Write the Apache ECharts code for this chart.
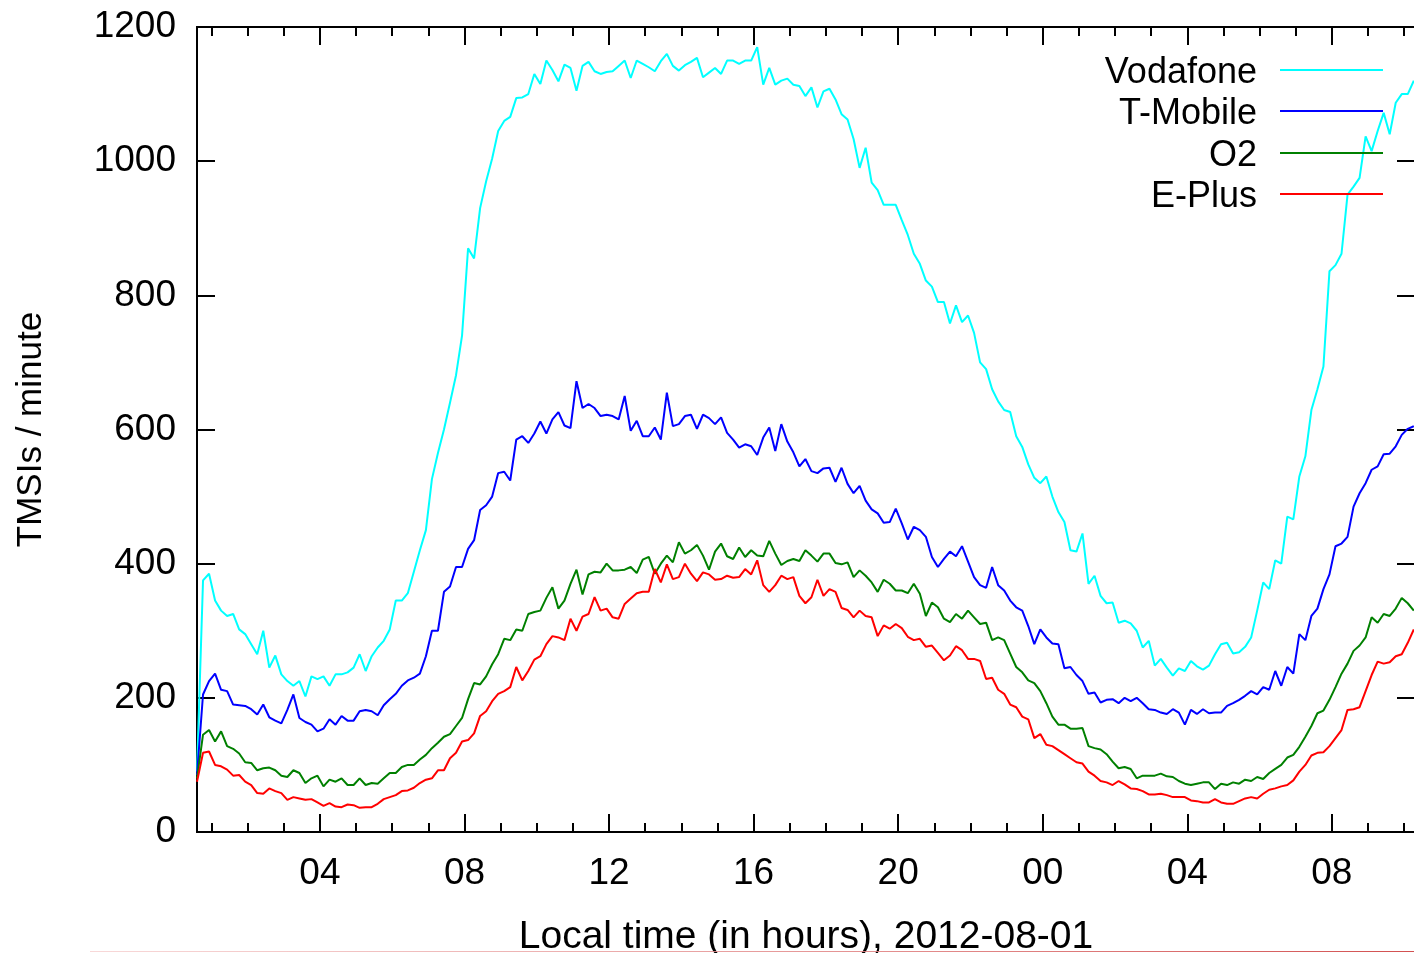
<!DOCTYPE html>
<html>
<head>
<meta charset="utf-8">
<script src="https://cdn.jsdelivr.net/npm/echarts@6/dist/echarts.min.js"></script>
<style>
html,body{margin:0;padding:0;background:#fff;}
#chart{width:1414px;height:953px;}
</style>
</head>
<body>
<div id="chart"></div>
<script>
// Sampling: hours since 2012-08-01 00:00 local time
const startHour = 0.6;
const stepMinutes = 10;

// TMSIs per minute, one row per hour of the day (10-minute samples)
const vodafone = [90,375,385,
345,330,322,325,302,295,
280,265,300,245,263,235,
225,218,225,202,232,228,
232,218,235,235,238,245,
265,240,262,275,285,302,
345,345,356,388,420,450,
526,565,600,640,681,740,
870,855,930,970,1004,1045,
1060,1066,1094,1095,1100,1130,
1115,1150,1136,1119,1144,1139,
1105,1142,1148,1134,1130,1133,
1134,1142,1150,1124,1150,1145,
1140,1134,1149,1160,1142,1135,
1143,1148,1154,1125,1132,1139,
1130,1150,1150,1145,1150,1150,
1170,1114,1139,1114,1120,1123,
1114,1112,1097,1110,1080,1104,
1108,1092,1070,1062,1033,990,
1020,968,957,935,935,935,
912,890,862,847,822,813,
790,790,758,785,760,770,
744,700,690,660,642,629,
626,590,574,548,528,520,
530,500,477,462,420,418,
445,370,382,352,341,342,
312,315,311,300,275,285,
248,258,245,233,244,240,
255,247,242,248,265,280,
282,266,268,276,290,330,
372,362,405,400,470,466,
530,560,629,660,694,836,
845,862,950,962,975,1037,
1015,1045,1072,1040,1087,1100,
1100,1120];

const tmobile = [85,205,225,
236,212,210,190,189,188,
183,175,190,171,166,162,
182,205,170,164,160,150,
154,168,160,173,166,166,
180,182,180,174,189,198,
206,218,226,230,236,262,
300,300,358,366,395,395,
422,435,480,487,500,535,
537,524,585,590,580,594,
612,594,615,626,606,602,
672,632,638,632,620,622,
620,615,650,598,613,590,
590,603,585,655,605,608,
620,622,601,622,617,608,
618,595,585,573,578,575,
562,588,603,568,608,582,
566,545,556,538,535,542,
543,522,543,519,505,516,
494,481,475,461,462,482,
460,436,455,450,440,410,
395,407,418,411,426,403,
380,368,364,395,368,360,
345,335,330,307,280,302,
290,281,280,244,246,234,
225,206,208,193,197,198,
192,200,195,200,192,183,
182,178,176,183,178,160,
182,176,183,177,178,178,
188,192,197,203,210,205,
216,212,240,218,246,236,
295,286,322,333,362,384,
426,430,440,485,505,520,
540,545,563,564,575,592,
601,605];

const o2 = [80,145,152,
135,150,128,124,117,104,
103,92,95,96,92,84,
82,92,88,73,80,84,
68,78,75,80,70,70,
80,70,73,72,80,88,
88,97,100,100,108,115,
125,133,142,146,158,170,
198,222,220,232,250,265,
288,286,302,300,325,328,
330,349,365,333,345,370,
391,354,384,388,387,400,
390,390,391,395,386,406,
410,385,400,412,402,432,
415,420,428,412,391,418,
430,411,407,424,410,420,
412,411,434,415,398,404,
407,404,420,412,403,415,
415,401,399,402,380,390,
382,372,358,376,370,360,
360,356,370,355,322,342,
335,318,313,325,318,330,
320,310,312,286,290,286,
266,246,238,226,222,210,
192,172,160,160,154,154,
155,128,125,123,116,105,
95,97,94,80,84,84,
84,87,83,82,76,72,
70,72,74,74,64,72,
70,74,72,78,76,82,
79,88,94,100,111,115,
127,142,158,177,181,197,
216,236,251,270,278,290,
320,312,325,322,333,349,
341,330];

const eplus = [75,118,120,
100,98,93,84,85,75,
70,58,57,65,61,58,
48,52,50,48,49,44,
39,43,38,37,41,40,
36,37,37,42,49,52,
55,61,62,66,73,78,
80,92,92,110,118,135,
137,147,173,180,195,206,
210,216,246,226,240,257,
262,280,292,290,286,318,
300,321,325,350,330,333,
320,318,340,348,356,358,
358,392,372,399,377,380,
400,385,374,387,384,376,
377,382,379,380,392,384,
405,368,358,368,382,377,
380,352,341,350,376,352,
362,358,334,331,320,330,
322,320,292,308,303,310,
304,291,286,288,276,278,
267,256,263,277,271,258,
258,255,228,230,212,206,
190,186,172,168,140,146,
130,128,122,116,110,104,
102,90,84,76,74,70,
76,71,65,64,61,56,
56,57,55,52,52,52,
47,46,44,44,49,44,
42,42,46,50,52,50,
57,63,65,68,70,77,
90,100,114,118,119,128,
140,152,182,183,186,210,
234,254,251,253,262,265,
282,302];

const seriesNames = ['Vodafone', 'T-Mobile', 'O2', 'E-Plus'];
const seriesColors = ['#00ffff', '#0000ff', '#008000', '#ff0000'];
const seriesValues = [vodafone, tmobile, o2, eplus];

const xMin = 0.6, xMax = 34.3;
const majorTickHours = [4, 8, 12, 16, 20, 24, 28, 32];
const minorTickHours = [1,2,3,5,6,7,9,10,11,13,14,15,17,18,19,21,22,23,25,26,27,29,30,31,33,34];
const yMin = 0, yMax = 1200, yStep = 200;

const xTitle = 'Local time (in hours), 2012-08-01';
const yTitle = 'TMSIs / minute';

const FONT = '"Liberation Sans", Arial, Helvetica, sans-serif';

function toPoints(values) {
  return values.map((v, i) => [startHour + i * stepMinutes / 60, v]);
}

const axisLineStyle = { color: '#000', width: 2 };

function xAxisDef(position, tickValues, tickLen, withLabels) {
  const ax = {
    type: 'value', min: xMin, max: xMax, position: position,
    splitLine: { show: false },
    axisLine: { show: true, onZero: false, lineStyle: axisLineStyle },
    axisTick: { show: true, inside: true, length: tickLen, customValues: tickValues,
                lineStyle: { color: '#000', width: 2 } },
    axisLabel: { show: false }
  };
  if (withLabels) {
    ax.axisLabel = {
      show: true, customValues: majorTickHours,
      formatter: v => String(Math.round(v) % 24).padStart(2, '0'),
      fontSize: 37, fontFamily: FONT, color: '#000', margin: 23
    };
    ax.name = xTitle;
    ax.nameLocation = 'middle';
    ax.nameGap = 86;
    ax.nameTextStyle = { fontSize: 39, fontFamily: FONT, color: '#000' };
  }
  return ax;
}

function yAxisDef(position, withLabels) {
  const ax = {
    type: 'value', min: yMin, max: yMax, interval: yStep, position: position,
    splitLine: { show: false },
    axisLine: { show: true, onZero: false, lineStyle: axisLineStyle },
    axisTick: { show: true, inside: true, length: 18, lineStyle: { color: '#000', width: 2 } },
    axisLabel: { show: false }
  };
  if (withLabels) {
    ax.axisLabel = { show: true, fontSize: 37, fontFamily: FONT, color: '#000', margin: 21,
                     formatter: v => String(v) };
    ax.name = yTitle;
    ax.nameLocation = 'middle';
    ax.nameRotate = 90;
    ax.nameGap = 148;
    ax.nameTextStyle = { fontSize: 35, fontFamily: FONT, color: '#000' };
  }
  return ax;
}

// legend drawn gnuplot-style: right-aligned label, sample line to its right
const legendRows = [70, 111, 153, 194];
const legendGraphics = [];
seriesNames.forEach((name, i) => {
  legendGraphics.push({
    type: 'text', z: 100,
    style: { text: name, x: 1257, y: legendRows[i] + 3, align: 'right', verticalAlign: 'middle',
             font: '36px ' + FONT, fill: '#000' }
  });
  legendGraphics.push({
    type: 'line', z: 100,
    shape: { x1: 1280, y1: legendRows[i], x2: 1383, y2: legendRows[i] },
    style: { stroke: seriesColors[i], lineWidth: 2 }
  });
});
legendGraphics.push({
  type: 'line', z: 1,
  shape: { x1: 90, y1: 951.5, x2: 1414, y2: 951.5 },
  style: {
    lineWidth: 1,
    stroke: new echarts.graphic.LinearGradient(0, 0, 1, 0, [
      { offset: 0, color: 'rgba(245,200,200,0.7)' },
      { offset: 1, color: 'rgba(210,80,80,1)' }
    ])
  }
});

const chart = echarts.init(document.getElementById('chart'), null, { renderer: 'canvas' });
chart.setOption({
  animation: false,
  backgroundColor: '#fff',
  grid: { left: 197, right: -1, top: 27, bottom: 121, containLabel: false, outerBoundsMode: 'none' },
  xAxis: [
    xAxisDef('bottom', majorTickHours, 18, true),
    xAxisDef('bottom', minorTickHours, 9, false),
    xAxisDef('top', majorTickHours, 18, false),
    xAxisDef('top', minorTickHours, 9, false)
  ],
  yAxis: [yAxisDef('left', true), yAxisDef('right', false)],
  series: seriesValues.map((vals, i) => ({
    name: seriesNames[i], type: 'line', xAxisIndex: 0, yAxisIndex: 0,
    data: toPoints(vals), symbol: 'none', showSymbol: false,
    lineStyle: { color: seriesColors[i], width: 2 },
    itemStyle: { color: seriesColors[i] },
    clip: true, z: 2 + i
  })),
  graphic: legendGraphics
});
</script>
</body>
</html>
